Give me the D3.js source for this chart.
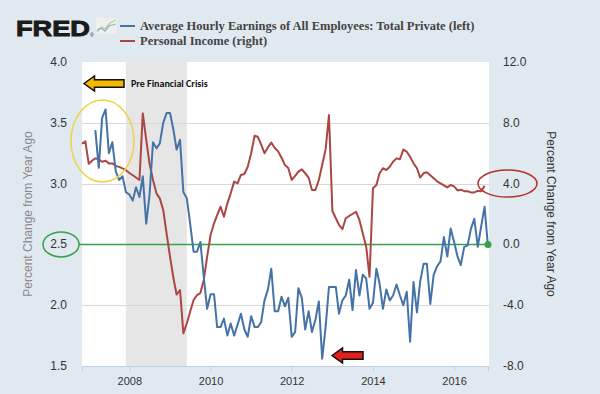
<!DOCTYPE html>
<html>
<head>
<meta charset="utf-8">
<script src="https://cdn.jsdelivr.net/npm/d3@7"></script>
<style>
  body { margin: 0; background: #e1e9f0; }
  svg { display: block; }
</style>
</head>
<body>
<div id="container"></div>
<script>
const seriesNames = ["Average Hourly Earnings of All Employees: Total Private (left)", "Personal Income (right)"];
const leftTicks = [1.5, 2.0, 2.5, 3.0, 3.5, 4.0];
const rightTicks = [-8, -4, 0, 4, 8, 12];
const yearTicks = [2008, 2010, 2012, 2014, 2016];

// salaire horaire moyen, % sur un an, mensuel à partir de mars 2007
const earningsStart = "2007-03";
const earnings = [3.44, 3.13, 3.54, 3.61, 3.25, 3.34, 3.10, 3.03, 3.06, 2.93,
  2.91, 2.86, 2.97, 2.89, 3.06, 2.67, 2.91, 3.34, 3.29, 3.33, 3.50, 3.58,
  3.58, 3.44, 3.28, 3.36, 2.93, 2.88, 2.67, 2.44, 2.44, 2.52, 2.23, 1.97,
  2.09, 2.09, 1.82, 1.82, 1.89, 1.75, 1.85, 1.75, 1.84, 1.93, 1.80, 1.74,
  1.91, 1.82, 1.82, 1.86, 2.04, 2.13, 2.30, 1.95, 1.95, 2.07, 1.99, 2.06,
  1.74, 1.78, 2.14, 2.06, 1.80, 1.95, 1.78, 1.88, 2.03, 1.56, 1.82, 2.15,
  2.15, 2.15, 1.93, 2.04, 2.08, 2.21, 1.96, 2.29, 2.08, 2.25, 2.22, 1.97,
  2.02, 2.30, 2.18, 1.97, 2.13, 2.04, 2.08, 2.17, 2.08, 2.00, 2.11, 1.70,
  2.19, 1.94, 2.19, 2.34, 2.34, 2.01, 2.25, 2.32, 2.36, 2.56, 2.40, 2.63,
  2.52, 2.40, 2.33, 2.48, 2.49, 2.63, 2.71, 2.48, 2.65, 2.81, 2.48];

// revenu personnel, % sur un an, mensuel à partir de novembre 2006
const incomeStart = "2006-11";
const income = [6.62, 6.78, 5.30, 5.52, 5.66, 5.60, 5.44, 5.50, 5.33, 5.33,
  5.16, 5.10, 5.00, 4.88, 4.70, 4.55, 4.40, 4.24, 8.62, 6.87, 5.30, 4.24,
  3.36, 3.03, 2.26, 0.73, -0.81, -2.23, -3.30, -3.00, -5.85, -5.19, -4.43,
  -3.66, -3.33, -3.20, -2.34, -0.81, 0.62, 1.39, 1.93, 2.48, 1.82, 2.70,
  3.36, 4.13, 4.02, 4.57, 4.63, 5.10, 6.00, 7.15, 7.09, 6.56, 6.00, 6.38,
  6.70, 6.34, 6.12, 5.70, 5.22, 5.03, 4.24, 4.51, 4.79, 4.94, 4.68, 4.40,
  3.58, 3.58, 4.24, 5.22, 6.25, 8.51, 2.20, 1.72, 1.28, 1.00, 1.72, 1.87,
  2.00, 2.15, 1.61, 0.73, -0.15, -2.13, 3.69, 3.91, 4.68, 5.01, 4.89, 5.11,
  5.44, 5.66, 5.60, 6.24, 6.10, 5.77, 5.33, 5.01, 4.40, 4.68, 4.75, 4.55,
  4.35, 4.15, 4.02, 3.88, 3.75, 3.91, 3.82, 3.55, 3.60, 3.50, 3.50, 3.42,
  3.42, 3.52, 3.50, 3.85];

// récession
const recession = ["2007-12", "2009-06"];

/**
 * Dimensions
**/
const width = 600, height = 394,
  plotLeft = 82, plotRight = 488, plotTop = 62, plotBottom = 366,
  fontSans = "'Liberation Sans', Arial, sans-serif",
  blue = "#4572a7", red = "#aa4643", green = "#33a24a";

const parseMonth = d3.timeParse("%Y-%m");

const x = d3.scaleTime()
  .domain([parseMonth("2006-11"), parseMonth("2016-11")])
  .range([plotLeft, plotRight]);
const yLeft = d3.scaleLinear().domain([1.5, 4.0]).range([plotBottom, plotTop]);
const yRight = d3.scaleLinear().domain([-8, 12]).range([plotBottom, plotTop]);

function toPoints(start, values) {
  const d0 = parseMonth(start);
  return values.map((v, i) => ({date: d3.timeMonth.offset(d0, i), value: v}));
}
const earningsData = toPoints(earningsStart, earnings);
const incomeData = toPoints(incomeStart, income);

const svg = d3.select("#container").append("svg")
  .attr("width", width)
  .attr("height", height);

svg.append("rect").attr("width", width).attr("height", height).attr("fill", "#e1e9f0");

/* zone du graphe */
svg.append("rect")
  .attr("x", plotLeft).attr("y", plotTop)
  .attr("width", 489 - plotLeft).attr("height", plotBottom - plotTop)
  .attr("fill", "#fff");

/* bande de récession */
svg.append("rect")
  .attr("x", x(parseMonth(recession[0])))
  .attr("y", plotTop)
  .attr("width", x(parseMonth(recession[1])) - x(parseMonth(recession[0])))
  .attr("height", plotBottom - plotTop)
  .attr("fill", "#e6e6e6");

/* grille */
svg.append("g").selectAll("line")
  .data(leftTicks.slice(1, -1))
  .enter().append("line")
    .attr("x1", plotLeft).attr("x2", 489)
    .attr("y1", d => Math.round(yLeft(d)) + 0.5)
    .attr("y2", d => Math.round(yLeft(d)) + 0.5)
    .attr("stroke", "#d8d8d8");

/* axe du bas */
const xAxis = svg.append("g")
  .attr("transform", "translate(0," + plotBottom + ")")
  .call(d3.axisBottom(x)
    .tickValues(yearTicks.map(y => new Date(y, 0, 1)))
    .tickFormat(d3.timeFormat("%Y"))
    .tickSize(5).tickPadding(6));
xAxis.select(".domain").attr("stroke", "#c0d0e0");
xAxis.selectAll(".tick line").attr("stroke", "#c0d0e0");
xAxis.selectAll("text").attr("font-family", fontSans).attr("font-size", 11).attr("fill", "#333");

/* axes gauche et droit */
svg.append("g").selectAll("text")
  .data(leftTicks)
  .enter().append("text")
    .attr("x", 67)
    .attr("y", d => yLeft(d) + 4)
    .attr("text-anchor", "end")
    .attr("font-family", fontSans).attr("font-size", 12).attr("fill", "#333")
    .text(d => d.toFixed(1));

svg.append("g").selectAll("text")
  .data(rightTicks)
  .enter().append("text")
    .attr("x", 503)
    .attr("y", d => yRight(d) + 4)
    .attr("font-family", fontSans).attr("font-size", 12).attr("fill", "#333")
    .text(d => d.toFixed(1));

svg.append("text")
  .attr("transform", "translate(32,214) rotate(-90)")
  .attr("text-anchor", "middle")
  .attr("font-family", fontSans).attr("font-size", 12).attr("fill", "#8a8a8a")
  .text("Percent Change from Year Ago");

svg.append("text")
  .attr("transform", "translate(547,214) rotate(90)")
  .attr("text-anchor", "middle")
  .attr("font-family", fontSans).attr("font-size", 12).attr("fill", "#333")
  .text("Percent Change from Year Ago");

/* ligne verte à 2.5 */
svg.append("line")
  .attr("x1", 79).attr("x2", plotRight)
  .attr("y1", yLeft(2.5)).attr("y2", yLeft(2.5))
  .attr("stroke", green).attr("stroke-width", 1.5);

/* séries */
const lineLeft = d3.line().x(d => x(d.date)).y(d => yLeft(d.value));
const lineRight = d3.line().x(d => x(d.date)).y(d => yRight(d.value));

svg.append("path").datum(incomeData)
  .attr("d", lineRight)
  .attr("fill", "none").attr("stroke", red).attr("stroke-width", 2)
  .attr("stroke-linejoin", "round");

svg.append("path").datum(earningsData)
  .attr("d", lineLeft)
  .attr("fill", "none").attr("stroke", blue).attr("stroke-width", 2)
  .attr("stroke-linejoin", "round");

svg.append("circle")
  .attr("cx", plotRight).attr("cy", yLeft(2.5)).attr("r", 3.5)
  .attr("fill", green);

/* annotations */
svg.append("ellipse")
  .attr("cx", 61).attr("cy", yLeft(2.5)).attr("rx", 18).attr("ry", 12.5)
  .attr("fill", "none").attr("stroke", green).attr("stroke-width", 1.5);

svg.append("ellipse")
  .attr("cx", 102.5).attr("cy", 141).attr("rx", 31.5).attr("ry", 41)
  .attr("fill", "none").attr("stroke", "#ecd445").attr("stroke-width", 1.5);

svg.append("ellipse")
  .attr("cx", 507.5).attr("cy", yRight(4)).attr("rx", 29.5).attr("ry", 13.5)
  .attr("fill", "none").attr("stroke", "#b5312c").attr("stroke-width", 1.5);

function arrowLeft(tipX, tipY, len, h, fill) {
  const head = h * 1.4, shaft = h * 0.5;
  const pts = [[tipX, tipY], [tipX + head, tipY - h], [tipX + head, tipY - shaft],
    [tipX + len, tipY - shaft], [tipX + len, tipY + shaft], [tipX + head, tipY + shaft],
    [tipX + head, tipY + h]];
  svg.append("polygon")
    .attr("points", pts.map(p => p.join(",")).join(" "))
    .attr("fill", fill).attr("stroke", "#111").attr("stroke-width", 1.5)
    .attr("stroke-linejoin", "miter");
}
arrowLeft(84, 83.5, 40, 7.5, "#f5b800");
arrowLeft(332, 355.5, 31, 7.5, "#e0201c");

svg.append("text")
  .attr("x", 131).attr("y", 87)
  .attr("font-family", "Carlito, 'Open Sans', sans-serif")
  .attr("font-weight", "bold").attr("font-size", 10).attr("fill", "#111")
  .text("Pre Financial Crisis");

/* en-tête */
svg.append("text")
  .attr("x", 16).attr("y", 36)
  .attr("font-family", fontSans).attr("font-weight", "bold").attr("font-size", 22)
  .attr("textLength", 74).attr("lengthAdjust", "spacingAndGlyphs")
  .attr("fill", "#1a1a1a").attr("stroke", "#1a1a1a").attr("stroke-width", 0.9)
  .text("FRED");
svg.append("text")
  .attr("x", 90).attr("y", 37)
  .attr("font-family", fontSans).attr("font-size", 5).attr("fill", "#1a1a1a")
  .text("®");

const icon = svg.append("g").attr("transform", "translate(96,18)");
icon.append("rect").attr("width", 21).attr("height", 16).attr("fill", "#eef0ee");
icon.append("polyline").attr("points", "1,14 6,9 9,11 14,5 20,2")
  .attr("fill", "none").attr("stroke", "#b6cf95").attr("stroke-width", 1.3);
icon.append("polyline").attr("points", "1,12 5,10 9,13 13,8 20,6")
  .attr("fill", "none").attr("stroke", "#9ab0c8").attr("stroke-width", 1.3);

const legend = svg.append("g");
legend.selectAll("line")
  .data([blue, red])
  .enter().append("line")
    .attr("x1", 120).attr("x2", 135)
    .attr("y1", (d, i) => 26 + i * 15).attr("y2", (d, i) => 26 + i * 15)
    .attr("stroke", d => d).attr("stroke-width", 2);
legend.selectAll("text")
  .data(seriesNames)
  .enter().append("text")
    .attr("x", 140)
    .attr("y", (d, i) => 30 + i * 15)
    .attr("font-family", "'Liberation Serif', 'Times New Roman', serif")
    .attr("font-weight", "bold").attr("font-size", 12.5).attr("fill", "#444")
    .text(d => d);
</script>
</body>
</html>
